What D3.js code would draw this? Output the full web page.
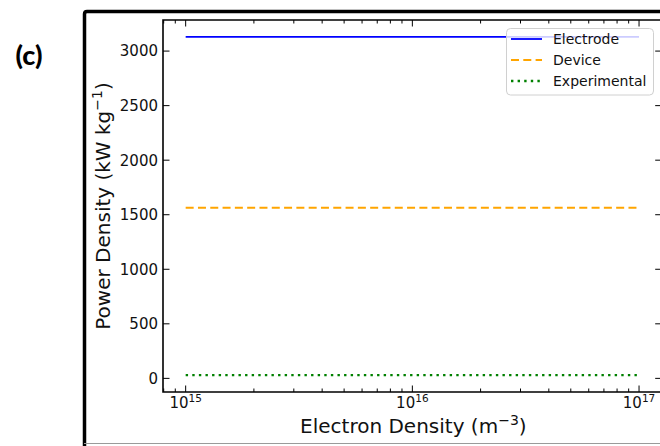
<!DOCTYPE html>
<html>
<head>
<meta charset="utf-8">
<script src="https://cdn.jsdelivr.net/npm/d3@7"></script>
<style>
  html, body { margin: 0; padding: 0; background: #fff; }
  svg { display: block; }
  text { font-family: "DejaVu Sans", sans-serif; }
</style>
</head>
<body>
<svg id="chart" width="660" height="446"></svg>
<script>
// ---- data ----
const electronDensity = [1e15, 1e17];
const electrode = [3130, 3130];
const device = [1565, 1565];
const experimental = [30, 30];
const seriesNames = ["Electrode", "Device", "Experimental"];
const yTickValues = [0, 500, 1000, 1500, 2000, 2500, 3000];
const xTickExponents = [15, 16, 17];

const svg = d3.select("#chart");

// outer figure frame
svg.append("path")
  .attr("d", "M84.5,446 L84.5,14 Q84.5,11.5 87,11.5 L662,11.5")
  .attr("fill", "none").attr("stroke", "#000").attr("stroke-width", 3.5);
svg.append("line").attr("x1", 84).attr("x2", 660).attr("y1", 443.5).attr("y2", 443.5)
  .attr("stroke", "#9a9a9a").attr("stroke-width", 1);

// panel label
svg.append("text").attr("x", 29).attr("y", 65).attr("text-anchor", "middle")
  .style("font-family", "Lato, 'Open Sans', sans-serif").style("font-weight", "900")
  .style("font-size", "27px").attr("fill", "#000").text("(c)");

// ---- plot area ----
const L = 163, R = 661.7, T = 20, B = 392;
const x = d3.scaleLog().domain([Math.pow(10, 14.9), Math.pow(10, 17.1)]).range([L, R]);
const y = d3.scaleLinear().domain([-125, 3285]).range([B, T]);

const g = svg.append("g");

// lines
const line = d3.line().x((d, i) => x(electronDensity[i])).y(d => y(d));
const styles = [
  {data: electrode, color: "#0000ff", width: 1.8, dash: null},
  {data: device, color: "#ffa500", width: 2, dash: "8,4.3"},
  {data: experimental, color: "#008000", width: 2.4, dash: "2.4,4.2"}
];
styles.forEach(s => {
  g.append("path").datum(s.data).attr("d", line)
    .attr("fill", "none").attr("stroke", s.color).attr("stroke-width", s.width)
    .attr("stroke-dasharray", s.dash);
});

// ticks
const majorX = xTickExponents.map(e => Math.pow(10, e));
const minorX = [];
[14, 15, 16].forEach(e => { for (let k = 2; k <= 9; k++) minorX.push(k * Math.pow(10, e)); });
const minorIn = minorX.filter(v => x(v) >= L && x(v) <= R);

const tk = g.append("g").attr("stroke", "#000").attr("stroke-width", 1);
majorX.forEach(v => {
  tk.append("line").attr("x1", x(v)).attr("x2", x(v)).attr("y1", B).attr("y2", B - 6.5);
  tk.append("line").attr("x1", x(v)).attr("x2", x(v)).attr("y1", T).attr("y2", T + 6.5);
});
minorIn.forEach(v => {
  tk.append("line").attr("x1", x(v)).attr("x2", x(v)).attr("y1", B).attr("y2", B - 3.5);
  tk.append("line").attr("x1", x(v)).attr("x2", x(v)).attr("y1", T).attr("y2", T + 3.5);
});
yTickValues.forEach(v => {
  tk.append("line").attr("x1", L).attr("x2", L + 6.5).attr("y1", y(v)).attr("y2", y(v));
  tk.append("line").attr("x1", R).attr("x2", R - 6.5).attr("y1", y(v)).attr("y2", y(v));
});

// spines
g.append("path")
  .attr("d", `M${L},${B} L${L},${T} L${R},${T} L${R},${B} Z`)
  .attr("fill", "none").attr("stroke", "#000").attr("stroke-width", 1.6);

// y tick labels
yTickValues.forEach(v => {
  g.append("text").attr("x", L - 5).attr("y", y(v)).attr("dy", "0.36em")
    .attr("text-anchor", "end").style("font-size", "15px").attr("fill", "#111").text(v);
});

// x tick labels (10^n)
xTickExponents.forEach(e => {
  const t = g.append("text").attr("x", x(Math.pow(10, e))).attr("y", 408)
    .attr("text-anchor", "middle").style("font-size", "15px").attr("fill", "#111");
  t.append("tspan").text("10");
  t.append("tspan").attr("dy", -6).style("font-size", "10.5px").text(e);
});

// axis labels
const xl = svg.append("text").attr("x", (L + R) / 2 + 1).attr("y", 433)
  .attr("text-anchor", "middle").style("font-size", "20px").attr("fill", "#111");
xl.append("tspan").text("Electron Density (m");
xl.append("tspan").attr("dy", -8).style("font-size", "14px").text("\u22123");
xl.append("tspan").attr("dy", 8).text(")");

const yl = svg.append("text")
  .attr("transform", `translate(110,${(T + B) / 2}) rotate(-90)`)
  .attr("text-anchor", "middle").style("font-size", "20px").attr("fill", "#111");
yl.append("tspan").text("Power Density (kW kg");
yl.append("tspan").attr("dy", -8).style("font-size", "14px").text("\u22121");
yl.append("tspan").attr("dy", 8).text(")");

// legend
const lg = svg.append("g");
lg.append("rect").attr("x", 506.5).attr("y", 28.5).attr("width", 147).attr("height", 66.5)
  .attr("rx", 4).attr("fill", "#fff").attr("fill-opacity", 0.8)
  .attr("stroke", "#d0d0d0").attr("stroke-width", 1);
const rowsY = [39, 60, 81];
styles.forEach((s, i) => {
  lg.append("line").attr("x1", 511).attr("x2", 542).attr("y1", rowsY[i]).attr("y2", rowsY[i])
    .attr("stroke", s.color).attr("stroke-width", s.width).attr("stroke-dasharray", s.dash);
  lg.append("text").attr("x", 553).attr("y", rowsY[i]).attr("dy", "0.36em")
    .style("font-size", "14px").attr("fill", "#111").text(seriesNames[i]);
});
</script>
</body>
</html>
